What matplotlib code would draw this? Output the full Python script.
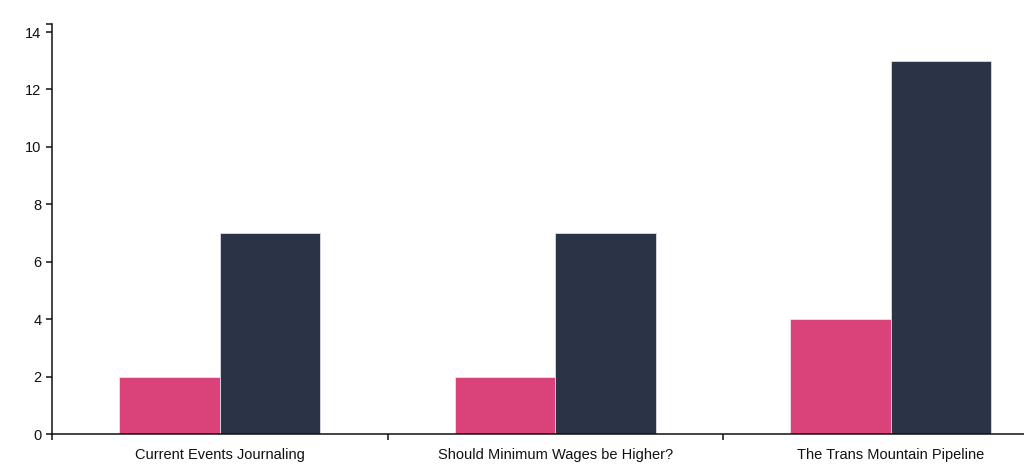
import matplotlib.pyplot as plt
import numpy as np

plt.rcParams['font.family'] = ['Liberation Sans', 'DejaVu Sans']

topics = ["Current Events Journaling", "Should Minimum Wages be Higher?", "The Trans Mountain Pipeline"]
serie_a = [2, 2, 4]
serie_b = [7, 7, 13]
yticks = [0, 2, 4, 6, 8, 10, 12, 14]

color_a = '#d9437a'
color_b = '#2b3347'

W, H = 1024, 472
fig = plt.figure(figsize=(W / 100, H / 100), dpi=100)

# ejes: origen en (52, 434) px, arriba en 24 px, hasta el borde derecho
left, bottom, top = 52, 434, 24
ax = fig.add_axes([left / W, 1 - bottom / H, (W - left) / W, (bottom - top) / H])

band_px = 335.5
ymax = (bottom - top) / ((bottom - 32) / 14)

x = np.arange(len(topics))
width = 0.3
ax.bar(x + 0.5 - width / 2, serie_a, width, color=color_a, edgecolor='#f0e0ea', linewidth=0.6)
ax.bar(x + 0.5 + width / 2, serie_b, width, color=color_b, edgecolor='#dcdcec', linewidth=0.6)

ax.set_xlim(0, (W - left) / band_px)
ax.set_ylim(0, ymax)

for s in ['top', 'right']:
	ax.spines[s].set_visible(False)
for s in ['left', 'bottom']:
	ax.spines[s].set_linewidth(1.1)
	ax.spines[s].set_color('#111111')

# ticks en los bordes de cada banda, etiquetas en el centro
ax.set_xticks(list(x))
ax.set_xticklabels([])
ax.set_xticks(x + 0.5, minor=True)
ax.set_xticklabels(topics, minor=True)
ax.tick_params(axis='x', which='major', length=4.5, width=1.1, color='#111111')
ax.tick_params(axis='x', which='minor', length=0, pad=10, labelsize=10.5, labelcolor='#111111')

ax.set_yticks(yticks + [ymax])
ax.set_yticklabels([str(v) for v in yticks] + [''])
ax.tick_params(axis='y', length=4.5, width=1.1, color='#111111', pad=3, labelsize=10.5, labelcolor='#111111')

plt.savefig("out.png", dpi=100)
plt.close()
